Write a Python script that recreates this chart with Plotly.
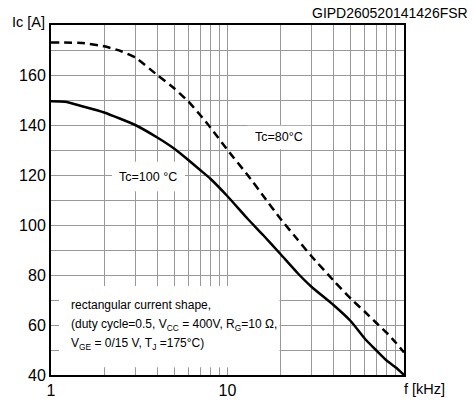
import plotly.graph_objects as go

# Tc = 100 °C (solid)
f_100 = [1, 1.2, 1.5, 2, 3, 4, 5, 6, 7, 8, 10, 13, 16, 20, 25, 30, 40, 50, 60, 70, 80, 90, 100]
ic_100 = [149.5, 149.3, 147.5, 145, 140, 135, 130.5, 126, 122, 118.5, 111.5, 102.5, 95.8, 88.3, 80.7, 75.2, 67.9, 61.5, 54.5, 49.7, 45.7, 43, 40]

# Tc = 80 °C (dashed)
f_80 = [1, 1.5, 2, 2.5, 3, 4, 5, 6, 7, 8, 10, 13, 16, 20, 25, 30, 40, 50, 60, 70, 80, 90, 100]
ic_80 = [173, 172.8, 171.5, 169.5, 167, 160, 154.6, 149.4, 144, 139, 130, 120, 111.5, 102.4, 94.1, 87.4, 77.7, 70.5, 65.3, 60.7, 56.8, 52.9, 49]

x_tickvals = [1, 2, 3, 4, 5, 6, 7, 8, 9, 10, 20, 30, 40, 50, 60, 70, 80, 90, 100]
x_ticktext = ["1", "", "", "", "", "", "", "", "", "10", "", "", "", "", "", "", "", "", ""]
y_tickvals = [40, 50, 60, 70, 80, 90, 100, 110, 120, 130, 140, 150, 160, 170, 180]
y_ticktext = ["40", "", "60", "", "80", "", "100", "", "120", "", "140", "", "160", "", ""]

FONT = "Liberation Sans, Arial, sans-serif"

W, H = 473, 411
L, R, T, B = 51, 404, 25, 383


def px(x):
    return (x - L) / (R - L)


def py(y):
    return (B - y) / (B - T)


fig = go.Figure()
fig.add_trace(go.Scatter(x=f_80, y=ic_80, mode="lines",
                         line=dict(color="black", width=2.5, dash="8px,5px", shape="spline", smoothing=0.5),
                         showlegend=False, hoverinfo="skip"))
fig.add_trace(go.Scatter(x=f_100, y=ic_100, mode="lines",
                         line=dict(color="black", width=2.5, shape="spline", smoothing=0.5),
                         showlegend=False, hoverinfo="skip"))

# white label boxes
boxes = [(112, 165, 185, 195), (247, 128, 311, 152), (59, 292, 279.5, 375)]
for x0, y0, x1, y1 in boxes:
    fig.add_shape(type="rect", xref="paper", yref="paper", x0=px(x0), x1=px(x1), y0=py(y1), y1=py(y0),
                  fillcolor="white", line=dict(width=0), layer="above")

ann = [
    dict(text="Tc=100 °C", x=px(148), y=py(180.5), xanchor="center", size=12.5),
    dict(text="Tc=80°C", x=px(279), y=py(140), xanchor="center", size=12.5),
    dict(text="rectangular current shape,", x=px(69), y=py(311.5), xanchor="left", size=12),
    dict(text="(duty cycle=0.5, V<sub>CC</sub> = 400V, R<sub>G</sub>=10 Ω,", x=px(69), y=py(331.5), xanchor="left", size=12),
    dict(text="V<sub>GE</sub> = 0/15 V, T<sub>J</sub> =175°C)", x=px(69), y=py(351.5), xanchor="left", size=12),
]
for a in ann:
    fig.add_annotation(text=a["text"], x=a["x"], y=a["y"], xref="paper", yref="paper", xanchor=a["xanchor"],
                       yanchor="middle", showarrow=False, font=dict(family=FONT, size=a["size"], color="black"))

fig.add_annotation(text="Ic [A]", x=px(10), y=py(22), xref="paper", yref="paper", xanchor="left", yanchor="middle",
                   showarrow=False, font=dict(family=FONT, size=14.5, color="black"))
fig.add_annotation(text="f [kHz]", x=px(402), y=py(397), xref="paper", yref="paper", xanchor="left", yanchor="middle",
                   showarrow=False, font=dict(family=FONT, size=14.5, color="black"))
fig.add_annotation(text="GIPD260520141426FSR", x=px(470), y=py(13), xref="paper", yref="paper", xanchor="right",
                   yanchor="middle", showarrow=False, font=dict(family=FONT, size=14, color="black"))

fig.update_layout(
    width=W, height=H,
    margin=dict(l=L, r=W - R, t=T, b=H - B, pad=0),
    paper_bgcolor="white", plot_bgcolor="white",
    xaxis=dict(type="log", range=[0, 2], tickvals=x_tickvals, ticktext=x_ticktext, showgrid=True,
               gridcolor="#999999", gridwidth=1.2, showline=True, linecolor="black", linewidth=2, mirror=True,
               ticks="", zeroline=False, tickfont=dict(family=FONT, size=16, color="black")),
    yaxis=dict(range=[40, 180], tickvals=y_tickvals, ticktext=y_ticktext, showgrid=True,
               gridcolor="#999999", gridwidth=1.2, showline=True, linecolor="black", linewidth=2, mirror=True,
               ticks="", zeroline=False, tickfont=dict(family=FONT, size=16, color="black")),
)

fig.write_html("out.html", config={"displayModeBar": False},
               post_script="document.body.style.margin='0';")
